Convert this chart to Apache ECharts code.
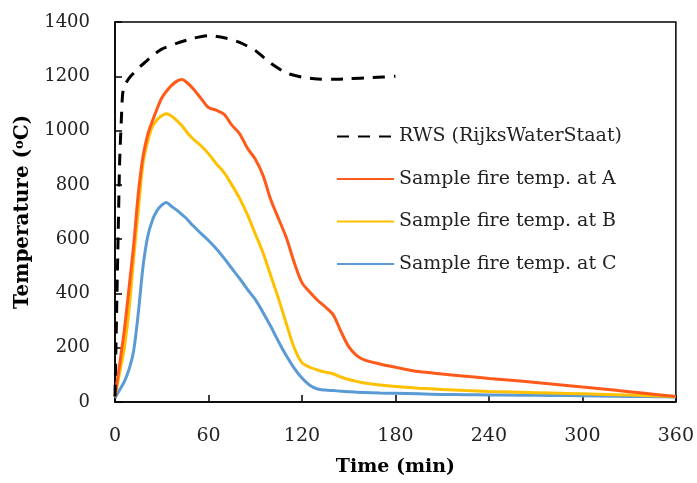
<!DOCTYPE html>
<html>
<head>
<meta charset="utf-8">
<script src="https://cdn.jsdelivr.net/npm/echarts@6/dist/echarts.min.js"></script>
<style>
  html, body { margin: 0; padding: 0; background: #fff; }
  #chart { width: 697px; height: 483px; }
</style>
</head>
<body>
<div id="chart"></div>
<script>
// RWS (RijksWaterStaat) standard fire curve
const rwsTime = [0, 1, 2, 3, 4, 5, 7, 10, 15, 20, 25, 30, 40, 50, 60, 70, 80, 90, 100, 110, 120, 130, 140, 150, 165, 180];
const rwsTemp = [20, 320, 610, 890, 1030, 1140, 1175, 1200, 1230, 1255, 1280, 1300, 1322, 1340, 1350, 1342, 1325, 1295, 1248, 1212, 1197, 1190, 1189, 1191, 1195, 1200];

// Measured sample fire temperatures (shared time base, min)
const sampleTime = [0, 3, 6, 9, 12, 15, 18, 21, 24, 27, 30, 33, 36, 40, 43, 46, 50, 55, 60, 65, 70, 75, 80, 85, 90, 95, 100, 105, 110, 115, 120, 125, 130, 135, 140, 145, 150, 155, 160, 170, 180, 195, 210, 225, 240, 260, 280, 300, 320, 340, 360];
const tempA = [20, 140, 265, 420, 580, 770, 905, 985, 1035, 1080, 1120, 1145, 1165, 1183, 1188, 1178, 1155, 1120, 1085, 1075, 1060, 1020, 988, 935, 895, 835, 745, 675, 605, 515, 440, 405, 375, 350, 322, 260, 204, 172, 155, 140, 128, 112, 103, 95, 87, 77, 66, 55, 44, 32, 20];
const tempB = [20, 110, 200, 340, 530, 710, 880, 960, 1015, 1040, 1055, 1062, 1055, 1035, 1018, 995, 970, 945, 915, 878, 845, 800, 750, 690, 620, 550, 465, 380, 288, 200, 145, 128, 118, 110, 104, 92, 83, 76, 70, 63, 57, 51, 46, 42, 39, 36, 33, 30, 27, 24, 20];
const tempC = [15, 45, 75, 120, 190, 330, 500, 610, 670, 705, 725, 735, 722, 705, 690, 675, 650, 622, 595, 565, 530, 492, 455, 415, 378, 330, 278, 222, 170, 125, 88, 62, 48, 44, 42, 40, 38, 36, 35, 33, 32, 30, 28, 27, 26, 25, 24, 23, 21, 20, 18];

const xTicks = [0, 60, 120, 180, 240, 300, 360];
const yTicks = [0, 200, 400, 600, 800, 1000, 1200, 1400];

const seriesNames = ['RWS (RijksWaterStaat)', 'Sample fire temp. at A', 'Sample fire temp. at B', 'Sample fire temp. at C'];
const seriesColors = ['#000000', '#FF5A1A', '#FFC000', '#5B9BD5'];

const pairs = (xs, ys) => xs.map((x, i) => [x, ys[i]]);

const FONT = 'DejaVu Serif';

const chart = echarts.init(document.getElementById('chart'), null, { renderer: 'canvas' });

const lineSeries = (idx, data, extra) => Object.assign({
  name: seriesNames[idx],
  type: 'line',
  data: data,
  symbol: 'none',
  smooth: 0.3,
  color: seriesColors[idx],
  lineStyle: { color: seriesColors[idx], width: 3 },
  z: 10 - idx
}, extra || {});

chart.setOption({
  animation: false,
  backgroundColor: '#fff',
  grid: {
    left: 115, right: 19, top: 22, bottom: 81,
    show: true, borderColor: '#000', borderWidth: 1.5, backgroundColor: 'transparent'
  },
  legend: {
    orient: 'vertical',
    left: 331, top: 122,
    itemWidth: 57, itemHeight: 20, itemGap: 23.5,
    itemStyle: { opacity: 0 },
    textStyle: { fontFamily: FONT, fontSize: 19, color: '#222' },
    data: seriesNames
  },
  xAxis: {
    type: 'value', min: 0, max: 360, interval: 60,
    name: 'Time (min)', nameLocation: 'middle', nameGap: 56,
    nameTextStyle: { fontFamily: FONT, fontSize: 19, fontWeight: 'bold', color: '#000' },
    axisLine: { show: true, lineStyle: { color: '#000', width: 1.5 } },
    axisTick: { show: true, inside: true, length: 7, lineStyle: { color: '#000', width: 1.5 } },
    axisLabel: {
      fontFamily: FONT, fontSize: 19, color: '#222', margin: 25,
      formatter: v => (xTicks.indexOf(v) >= 0 ? String(v) : '')
    },
    splitLine: { show: false }
  },
  yAxis: {
    type: 'value', min: 0, max: 1400, interval: 200,
    name: 'Temperature ({sup|o}C)', nameLocation: 'middle', nameGap: 80, nameRotate: 90,
    nameTextStyle: {
      fontFamily: FONT, fontSize: 20, fontWeight: 'bold', color: '#000',
      rich: {
        sup: { fontFamily: FONT, fontSize: 13, fontWeight: 'bold', color: '#000', verticalAlign: 'top', padding: [0, 0, 8, 0] }
      }
    },
    axisLine: { show: true, lineStyle: { color: '#000', width: 1.5 } },
    axisTick: { show: true, inside: true, length: 7, lineStyle: { color: '#000', width: 1.5 } },
    axisLabel: {
      fontFamily: FONT, fontSize: 18, color: '#222', margin: 25,
      formatter: v => (yTicks.indexOf(v) >= 0 ? String(v) : '')
    },
    splitLine: { show: false }
  },
  series: [
    lineSeries(0, pairs(rwsTime, rwsTemp), { lineStyle: { color: '#000', width: 3, type: [12, 9] }, smooth: 0.2 }),
    lineSeries(1, pairs(sampleTime, tempA)),
    lineSeries(2, pairs(sampleTime, tempB)),
    lineSeries(3, pairs(sampleTime, tempC))
  ]
});
</script>
</body>
</html>
